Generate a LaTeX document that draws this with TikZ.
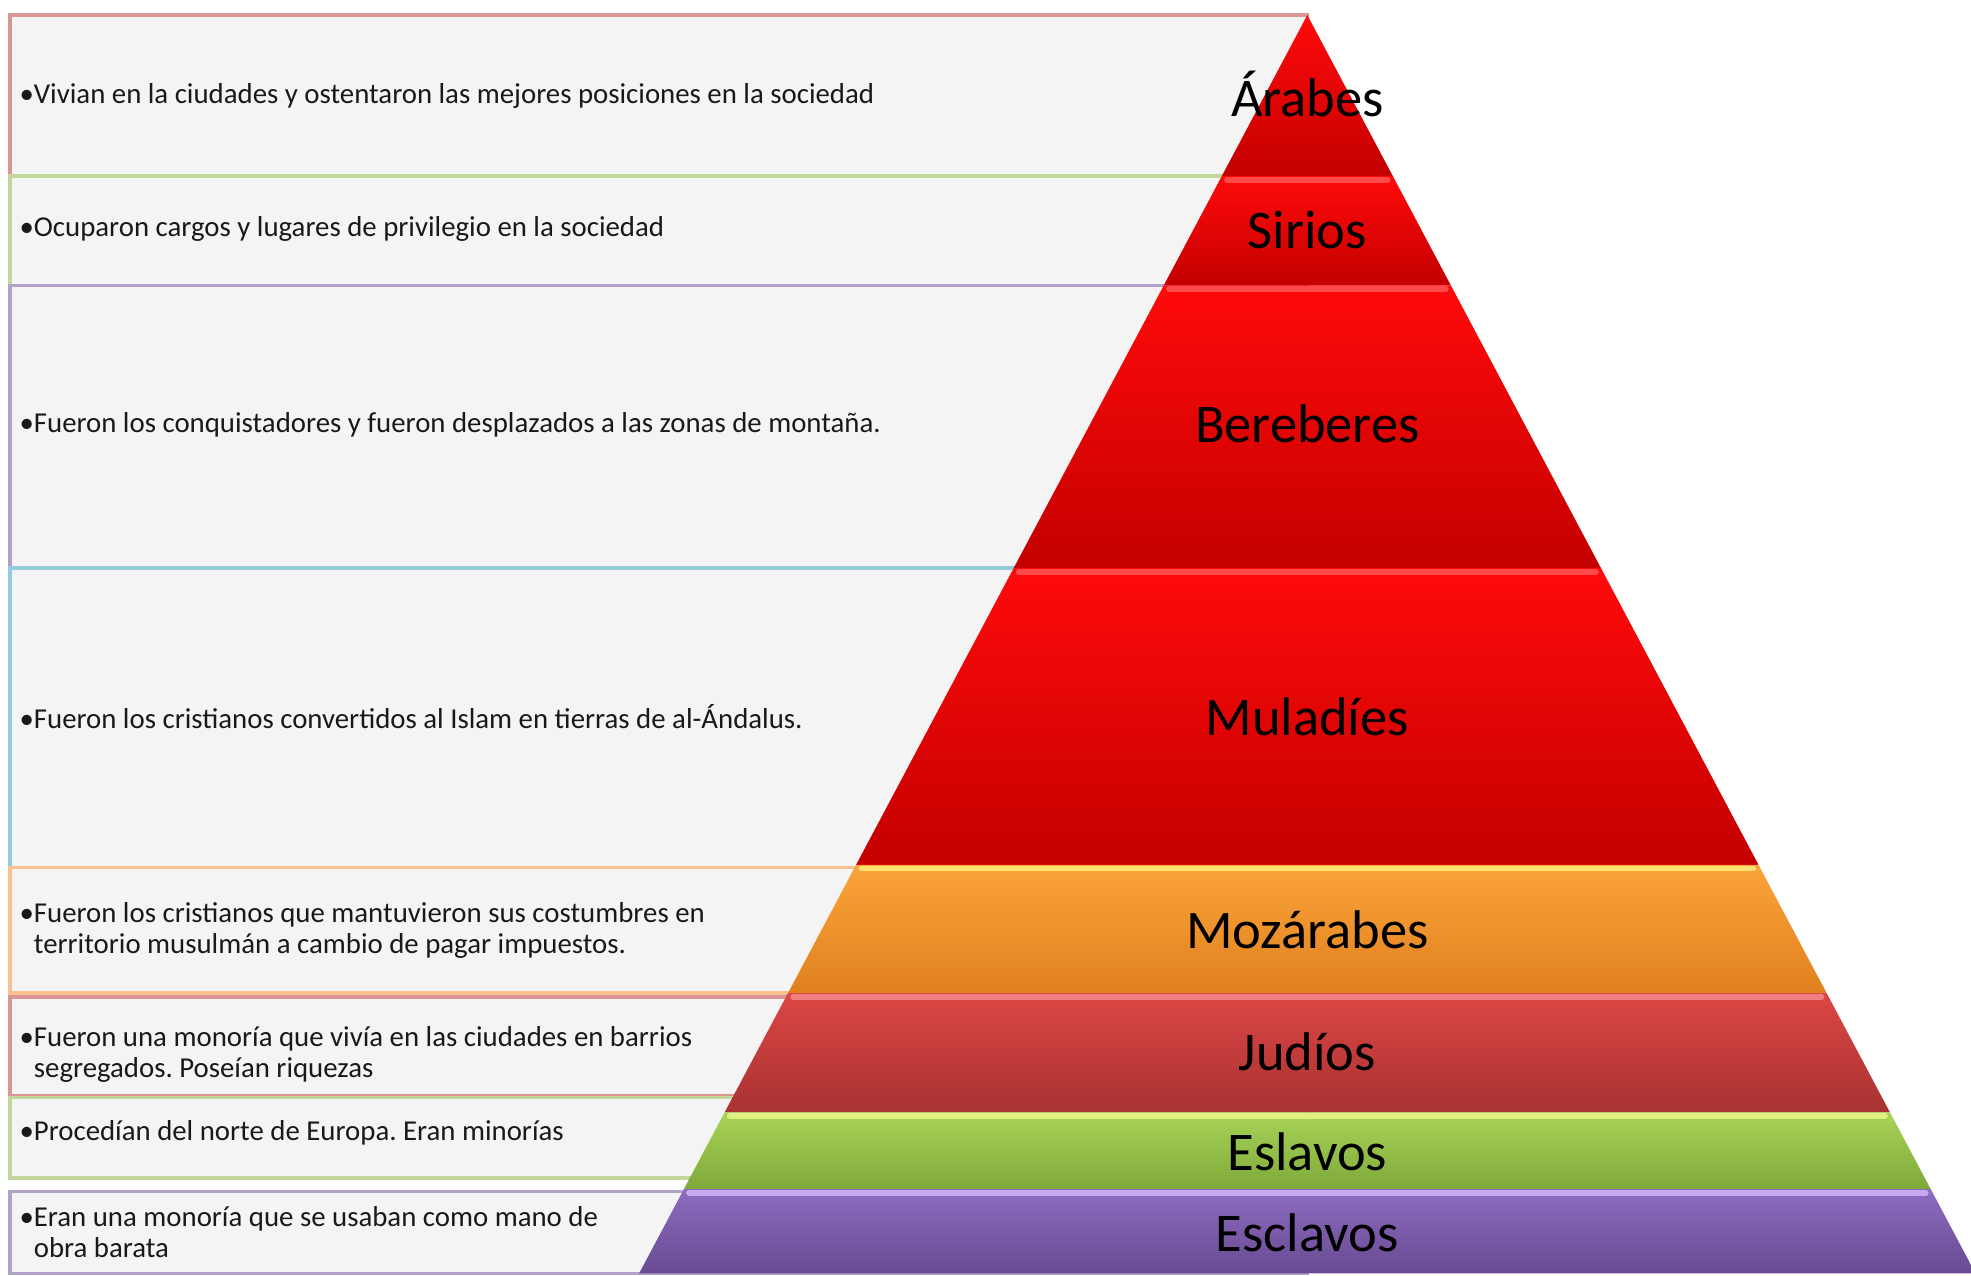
\documentclass[tikz,border=0pt]{standalone}
\usepackage{fontspec}
\setmainfont{Carlito}
\usetikzlibrary{calc}
\frenchspacing

\definecolor{boxfill}{HTML}{F4F4F4}
\definecolor{lnred}{HTML}{D99694}
\definecolor{lngreen}{HTML}{C3D69B}
\definecolor{lnpurple}{HTML}{B3A2C7}
\definecolor{lnaqua}{HTML}{93CDDD}
\definecolor{lnorange}{HTML}{FAC090}

\tikzset{
    desc/.style={anchor=west, align=left, inner sep=0pt, text=black!90,
        font=\fontsize{8.2}{8.8}\selectfont},
    level/.style={inner sep=0pt, text=black, font=\fontsize{15.5}{18}\selectfont}
}

\begin{document}
\begin{tikzpicture}[x=0.01257cm, y=-0.01257cm]
    \useasboundingbox (0,0) rectangle (1568,1015);
    \fill[white] (0,0) rectangle (1568,1015);

    % cajas de la izquierda
    \foreach \ya/\yb/\c in {12/140/lnred, 140/227/lngreen, 227/452/lnpurple,
        452/690/lnaqua, 690/790/lnorange, 793/872/lnred, 873/937/lngreen,
        948/1013/lnpurple}
        \draw[line width=1pt, draw=\c, fill=boxfill] (8,\ya) rectangle (1040,\yb);

    % piramide
    \foreach \ya/\yb/\cA/\cM/\cB/\cH in {
        12/140/FF0A0A/FF0000/C40000/FF4A4A,
        140/227/FF0A0A/FF0000/C40000/FF4A4A,
        227/452/FF0A0A/FF0000/C40000/FF4A4A,
        452/688/FF0A0A/FF0000/C40000/FF4A4A,
        688/790/FBA43A/F7962E/E0801E/FFE070,
        790/885/DC4644/D04040/A83232/F08080,
        885/946/A8D458/9CC94C/7EA83A/E0F080,
        946/1013/8E6CC0/8060B0/684A92/C8A8F0}
    {
        \pgfmathsetmacro\la{1040-0.531*(\ya-12)}
        \pgfmathsetmacro\ra{1040+0.531*(\ya-12)}
        \pgfmathsetmacro\lb{1040-0.531*(\yb-12)}
        \pgfmathsetmacro\rb{1040+0.531*(\yb-12)}
        \definecolor{ctop}{HTML}{\cA}
        \definecolor{cmid}{HTML}{\cM}
        \definecolor{cbot}{HTML}{\cB}
        \definecolor{chi}{HTML}{\cH}
        \shade[top color=ctop, middle color=cmid, bottom color=cbot]
            (\la,\ya) -- (\ra,\ya) -- (\rb,\yb) -- (\lb,\yb) -- cycle;
        \ifdim\la pt<1039pt
            \draw[chi, line width=1.6pt, line cap=round]
                (\la+4,\ya+3) -- (\ra-4,\ya+3);
        \fi
    }

    % niveles
    \node[level] (arabes) at (1040,75) {Árabes};
    \node[level] (sirios) at (1040,183) {Sirios};
    \node[level] (bereberes) at (1040,337) {Bereberes};
    \node[level] (muladies) at (1040,570) {Muladíes};
    \node[level] (mozarabes) at (1040,740) {Mozárabes};
    \node[level] (judios) at (1040,837) {Judíos};
    \node[level] (eslavos) at (1040,916) {Eslavos};
    \node[level] (esclavos) at (1040,981) {Esclavos};

    % descripciones
    \node[desc] (txarabes) at (15,76) {•Vivian en la ciudades y ostentaron las mejores posiciones en la sociedad};
    \node[desc] (txsirios) at (15,182) {•Ocuparon cargos y lugares de privilegio en la sociedad};
    \node[desc] (txbereberes) at (15,338) {•Fueron los conquistadores y fueron desplazados a las zonas de montaña.};
    \node[desc] (txmuladies) at (15,570) {•Fueron los cristianos convertidos al Islam en tierras de al-Ándalus.};
    \node[desc] (txmozarabes) at (15,740) {•Fueron los cristianos que mantuvieron sus costumbres en\\\hphantom{•}territorio musulmán a cambio de pagar impuestos.};
    \node[desc] (txjudios) at (15,839) {•Fueron una monoría que vivía en las ciudades en barrios\\\hphantom{•}segregados. Poseían riquezas};
    \node[desc] (txeslavos) at (15,901) {•Procedían del norte de Europa. Eran minorías};
    \node[desc] (txesclavos) at (15,980) {•Eran una monoría que se usaban como mano de\\\hphantom{•}obra barata};
\end{tikzpicture}
\end{document}
